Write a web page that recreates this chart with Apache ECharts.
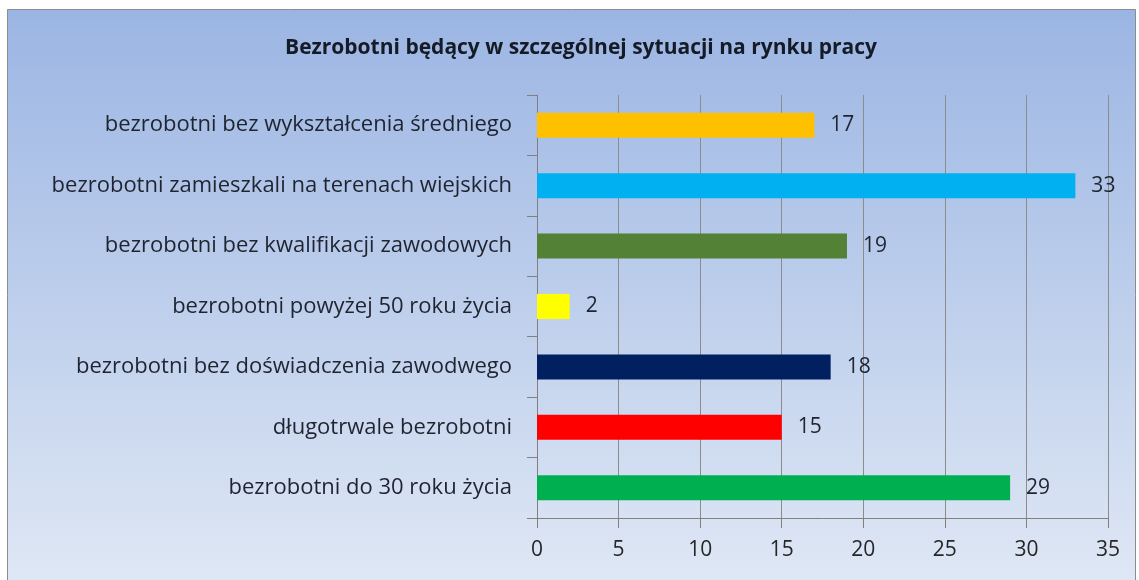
<!DOCTYPE html>
<html>
<head>
<meta charset="utf-8">
<script src="https://cdn.jsdelivr.net/npm/echarts@6/dist/echarts.min.js"></script>
<style>
  html, body { margin: 0; padding: 0; background: #fff; }
  #chart { width: 1139px; height: 580px; }
</style>
</head>
<body>
<div id="chart"></div>
<script>
// kategorie od góry do dołu
var categories = [
  "bezrobotni bez wykształcenia średniego",
  "bezrobotni zamieszkali na terenach wiejskich",
  "bezrobotni bez kwalifikacji zawodowych",
  "bezrobotni powyżej 50 roku życia",
  "bezrobotni bez doświadczenia zawodwego",
  "długotrwale bezrobotni",
  "bezrobotni do 30 roku życia"
];
var values = [17, 33, 19, 2, 18, 15, 29];
var barColors = ["#ffc000", "#00b0f0", "#538135", "#ffff00", "#002060", "#ff0000", "#00b050"];

var chart = echarts.init(document.getElementById("chart"));
var font = "Open Sans";

chart.setOption({
  animation: false,
  graphic: [
    {
      type: "rect",
      z: -10,
      shape: { x: 7.5, y: 9.5, width: 1128, height: 580 },
      style: {
        fill: new echarts.graphic.LinearGradient(0, 0, 0, 1, [
          { offset: 0, color: "#9bb5e3" },
          { offset: 1, color: "#e0e8f5" }
        ]),
        stroke: "#8c8c8c",
        lineWidth: 1
      }
    }
  ],
  title: {
    text: "Bezrobotni będący w szczególnej sytuacji na rynku pracy",
    left: 576,
    top: 33,
    textAlign: "center",
    textStyle: { fontFamily: font, fontSize: 21, fontWeight: "bold", color: "#141a26" }
  },
  grid: { left: 537, right: 31, top: 95, bottom: 62 },
  xAxis: {
    type: "value",
    min: 0,
    max: 35,
    interval: 5,
    axisLine: { show: true, lineStyle: { color: "#808080" } },
    axisTick: { show: true, length: 10, lineStyle: { color: "#808080" } },
    axisLabel: { fontFamily: font, fontSize: 21, color: "#262626", margin: 22 },
    splitLine: { show: true, lineStyle: { color: "#8c8c8c" } }
  },
  yAxis: {
    type: "category",
    inverse: true,
    data: categories,
    axisLine: { show: true, lineStyle: { color: "#808080" } },
    axisTick: { show: true, length: 10, lineStyle: { color: "#808080" } },
    axisLabel: { fontFamily: font, fontSize: 22, color: "#1f2430", margin: 25 }
  },
  series: [
    {
      type: "bar",
      barWidth: 25,
      data: values.map(function (v, i) {
        return { value: v, itemStyle: { color: barColors[i] } };
      }),
      label: {
        show: true,
        position: "right",
        distance: 16,
        fontFamily: font,
        fontSize: 21,
        color: "#1f2430"
      }
    }
  ]
});
</script>
</body>
</html>
